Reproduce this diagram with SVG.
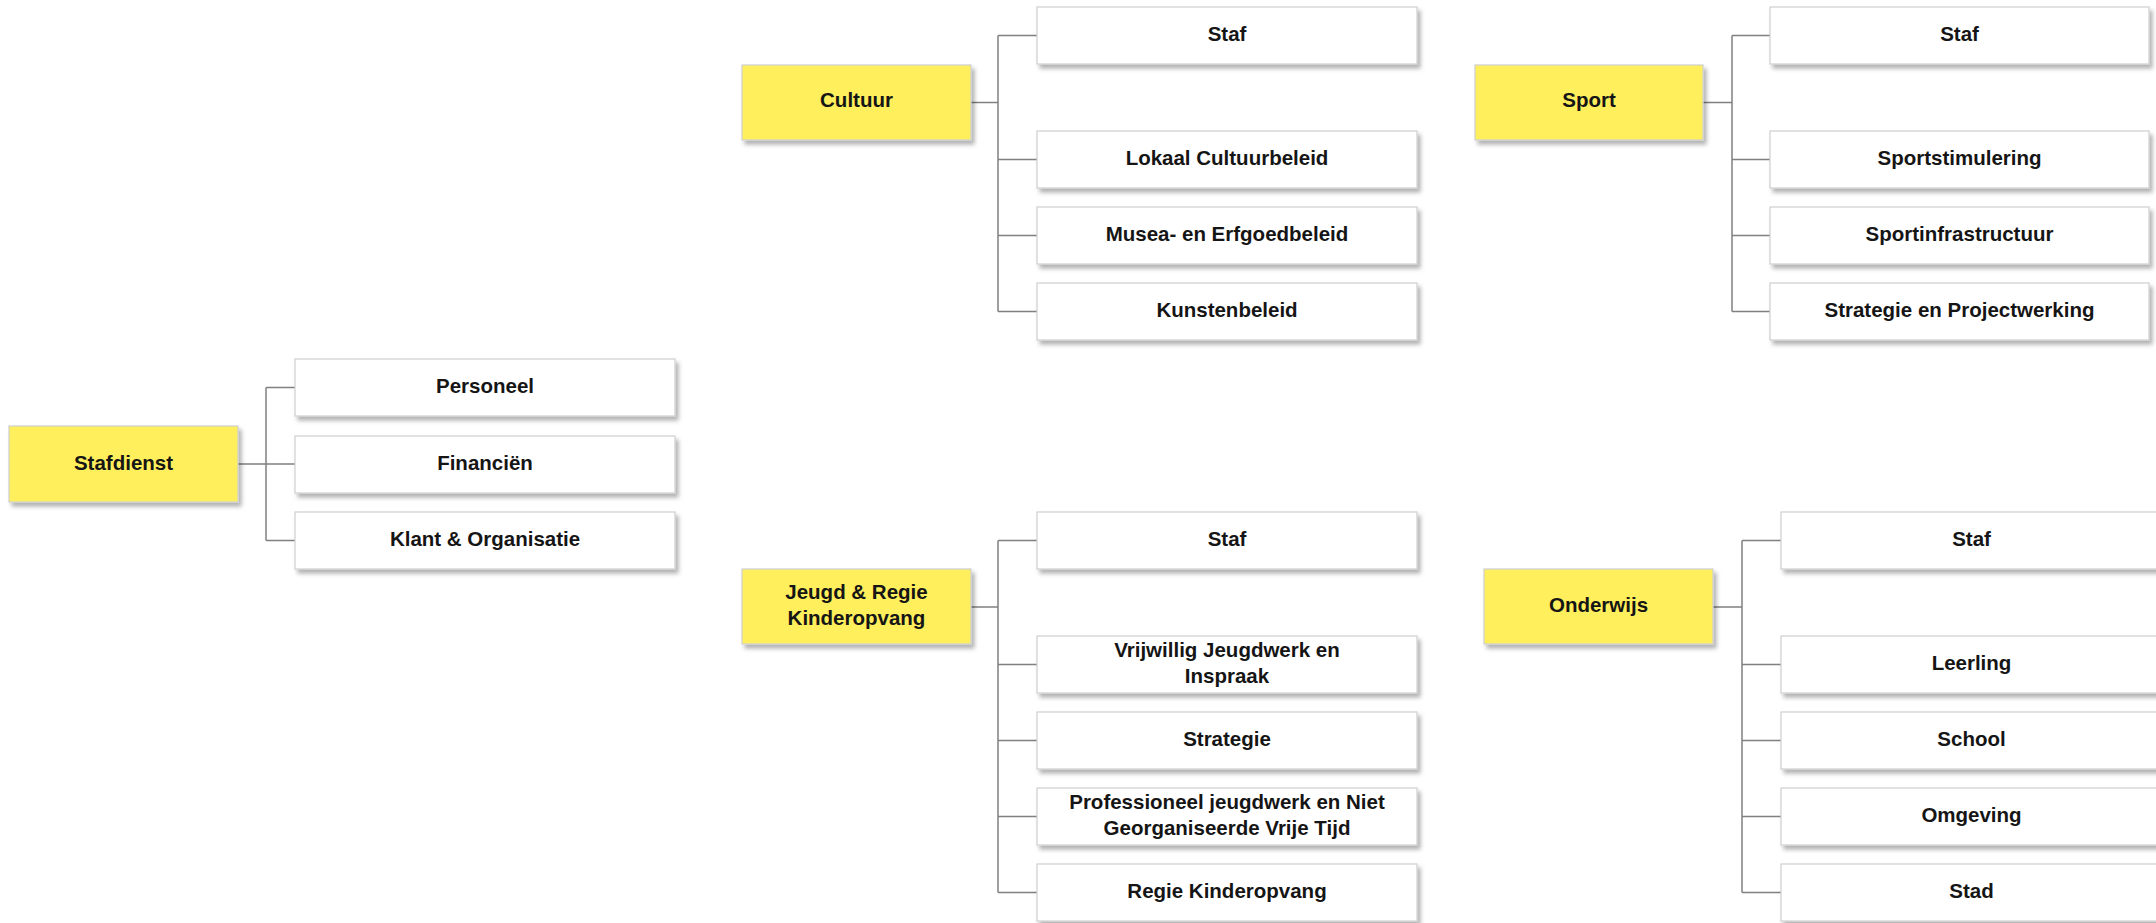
<svg xmlns="http://www.w3.org/2000/svg" width="2156" height="923" viewBox="0 0 2156 923">
<defs>
<filter id="sh" x="-5%" y="-20%" width="115%" height="150%">
<feDropShadow dx="3" dy="4" stdDeviation="2.2" flood-color="#000" flood-opacity="0.3"/>
</filter>
</defs>
<style>
.p{fill:#FFEF5C;stroke:#CFCFCF;stroke-width:1.2;filter:url(#sh)}
.c{fill:#FFFFFF;stroke:#CFCFCF;stroke-width:1.2;filter:url(#sh)}
text{font-family:"Liberation Sans",Arial,Helvetica,sans-serif;font-weight:bold;font-size:20.5px;fill:#151515;text-anchor:middle}
.ln{fill:none;stroke:#808080;stroke-width:1.5}
</style>
<rect width="2156" height="923" fill="#FFFFFF"/>
<g id="connectors">
<path class="ln" d="M238 464H266M266 387.5V540.5M266 387.5H295M266 464H295M266 540.5H295"/>
<path class="ln" d="M971 102.5H998M998 35.5V311.5M998 35.5H1037M998 159.5H1037M998 235.5H1037M998 311.5H1037"/>
<path class="ln" d="M1703 102.5H1732M1732 35.5V311.5M1732 35.5H1770M1732 159.5H1770M1732 235.5H1770M1732 311.5H1770"/>
<path class="ln" d="M971 607H998M998 540.5V892.5M998 540.5H1037M998 664.5H1037M998 740.5H1037M998 816.5H1037M998 892.5H1037"/>
<path class="ln" d="M1713 607H1742M1742 540.5V892.5M1742 540.5H1781M1742 664.5H1781M1742 740.5H1781M1742 816.5H1781M1742 892.5H1781"/>
</g>
<g id="stafdienst"><rect class="p" x="9" y="426" width="229" height="76"/><text x="123.5" y="469.5">Stafdienst</text></g>
<g id="personeel"><rect class="c" x="295" y="359" width="380" height="57"/><text x="485" y="393">Personeel</text></g>
<g id="financien"><rect class="c" x="295" y="436" width="380" height="57"/><text x="485" y="470">Financiën</text></g>
<g id="klant"><rect class="c" x="295" y="512" width="380" height="57"/><text x="485" y="546">Klant &amp; Organisatie</text></g>

<g id="cultuur"><rect class="p" x="742" y="65" width="229" height="75"/><text x="856.5" y="107">Cultuur</text></g>
<g id="cultuur-staf"><rect class="c" x="1037" y="7" width="380" height="57"/><text x="1227" y="41">Staf</text></g>
<g id="lokaal"><rect class="c" x="1037" y="131" width="380" height="57"/><text x="1227" y="165">Lokaal Cultuurbeleid</text></g>
<g id="musea"><rect class="c" x="1037" y="207" width="380" height="57"/><text x="1227" y="241">Musea- en Erfgoedbeleid</text></g>
<g id="kunsten"><rect class="c" x="1037" y="283" width="380" height="57"/><text x="1227" y="317">Kunstenbeleid</text></g>

<g id="sport"><rect class="p" x="1475" y="65" width="228" height="75"/><text x="1589" y="107">Sport</text></g>
<g id="sport-staf"><rect class="c" x="1770" y="7" width="379" height="57"/><text x="1959.5" y="41">Staf</text></g>
<g id="sportstimulering"><rect class="c" x="1770" y="131" width="379" height="57"/><text x="1959.5" y="165">Sportstimulering</text></g>
<g id="sportinfra"><rect class="c" x="1770" y="207" width="379" height="57"/><text x="1959.5" y="241">Sportinfrastructuur</text></g>
<g id="strategie-project"><rect class="c" x="1770" y="283" width="379" height="57"/><text x="1959.5" y="317">Strategie en Projectwerking</text></g>

<g id="jeugd"><rect class="p" x="742" y="569" width="229" height="75"/><text x="856.5" y="599">Jeugd &amp; Regie</text><text x="856.5" y="625">Kinderopvang</text></g>
<g id="jeugd-staf"><rect class="c" x="1037" y="512" width="380" height="57"/><text x="1227" y="546">Staf</text></g>
<g id="vrijwillig"><rect class="c" x="1037" y="636" width="380" height="57"/><text x="1227" y="656.5">Vrijwillig Jeugdwerk en</text><text x="1227" y="682.5">Inspraak</text></g>
<g id="strategie"><rect class="c" x="1037" y="712" width="380" height="57"/><text x="1227" y="746">Strategie</text></g>
<g id="professioneel"><rect class="c" x="1037" y="788" width="380" height="57"/><text x="1227" y="808.5">Professioneel jeugdwerk en Niet</text><text x="1227" y="834.5">Georganiseerde Vrije Tijd</text></g>
<g id="regie"><rect class="c" x="1037" y="864" width="380" height="57"/><text x="1227" y="898">Regie Kinderopvang</text></g>

<g id="onderwijs"><rect class="p" x="1484" y="569" width="229" height="75"/><text x="1598.5" y="612">Onderwijs</text></g>
<g id="onderwijs-staf"><rect class="c" x="1781" y="512" width="381" height="57"/><text x="1971.5" y="546">Staf</text></g>
<g id="leerling"><rect class="c" x="1781" y="636" width="381" height="57"/><text x="1971.5" y="670">Leerling</text></g>
<g id="school"><rect class="c" x="1781" y="712" width="381" height="57"/><text x="1971.5" y="746">School</text></g>
<g id="omgeving"><rect class="c" x="1781" y="788" width="381" height="57"/><text x="1971.5" y="822">Omgeving</text></g>
<g id="stad"><rect class="c" x="1781" y="864" width="381" height="57"/><text x="1971.5" y="898">Stad</text></g>
</svg>
